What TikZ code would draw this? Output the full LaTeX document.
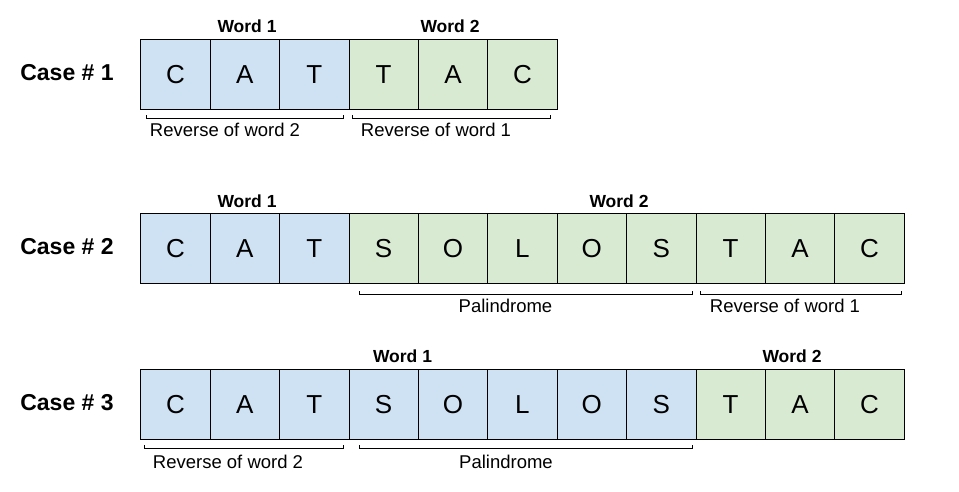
\documentclass[tikz,border=0pt]{standalone}
\usepackage{fontspec}
\setmainfont{Liberation Sans}
\usepackage{tikz}
\usetikzlibrary{positioning}
\definecolor{wordblue}{HTML}{CFE2F3}
\definecolor{wordgreen}{HTML}{D9EAD3}
\tikzset{
  cell/.style={draw=black, line width=0.8pt, minimum width=69.4pt, minimum height=70pt,
    inner sep=0pt, outer sep=0pt, font=\fontsize{26}{30}\selectfont},
  wone/.style={cell, fill=wordblue},
  wtwo/.style={cell, fill=wordgreen},
  casetag/.style={font=\bfseries\fontsize{23}{26}\selectfont},
  wordtag/.style={font=\bfseries\fontsize{17.5}{20}\selectfont},
  note/.style={font=\fontsize{18.5}{22}\selectfont},
  bracket/.style={draw=black, line width=0.8pt}
}
\begin{document}
\begin{tikzpicture}[x=1pt, y=-1pt, node distance=0pt]
  \useasboundingbox (0,0) rectangle (959,492);

  % case 1
  \node[casetag] (case1) at (67,73) {Case \# 1};
  \node[wone, anchor=north west] (a1) at (140.7,39.3) {C};
  \node[wone, right=of a1] (a2) {A};
  \node[wone, right=of a2] (a3) {T};
  \node[wtwo, right=of a3] (a4) {T};
  \node[wtwo, right=of a4] (a5) {A};
  \node[wtwo, right=of a5] (a6) {C};
  \node[wordtag] (a1w) at (247,26.5) {Word 1};
  \node[wordtag] (a2w) at (450,26.5) {Word 2};
  \coordinate[below right=9pt and 6pt of a1.south west] (ra1);
  \coordinate[below left=9pt and 6pt of a3.south east] (ra2);
  \coordinate[below right=9pt and 3pt of a4.south west] (ra3);
  \coordinate[below left=9pt and 7pt of a6.south east] (ra4);
  \draw[bracket] ([yshift=3pt]ra1) -- (ra1) -- (ra2) -- ([yshift=3pt]ra2);
  \draw[bracket] ([yshift=3pt]ra3) -- (ra3) -- (ra4) -- ([yshift=3pt]ra4);
  \node[note] (na1) at (225,130) {Reverse of word 2};
  \node[note] (na2) at (436,130) {Reverse of word 1};

  % case 2
  \node[casetag] (case2) at (67,246.5) {Case \# 2};
  \node[wone, anchor=north west] (b1) at (140.7,213.3) {C};
  \node[wone, right=of b1] (b2) {A};
  \node[wone, right=of b2] (b3) {T};
  \node[wtwo, right=of b3] (b4) {S};
  \node[wtwo, right=of b4] (b5) {O};
  \node[wtwo, right=of b5] (b6) {L};
  \node[wtwo, right=of b6] (b7) {O};
  \node[wtwo, right=of b7] (b8) {S};
  \node[wtwo, right=of b8] (b9) {T};
  \node[wtwo, right=of b9] (b10) {A};
  \node[wtwo, right=of b10] (b11) {C};
  \node[wordtag] (b1w) at (247,201) {Word 1};
  \node[wordtag] (b2w) at (619,201) {Word 2};
  \coordinate[below right=11pt and 10pt of b4.south west] (rb1);
  \coordinate[below left=11pt and 4pt of b8.south east] (rb2);
  \coordinate[below right=11pt and 4pt of b9.south west] (rb3);
  \coordinate[below left=11pt and 3pt of b11.south east] (rb4);
  \draw[bracket] ([yshift=3pt]rb1) -- (rb1) -- (rb2) -- ([yshift=3pt]rb2);
  \draw[bracket] ([yshift=3pt]rb3) -- (rb3) -- (rb4) -- ([yshift=3pt]rb4);
  \node[note] (nb1) at (505.5,306) {Palindrome};
  \node[note] (nb2) at (785,306) {Reverse of word 1};

  % case 3
  \node[casetag] (case3) at (67,402.5) {Case \# 3};
  \node[wone, anchor=north west] (c1) at (140.7,369.3) {C};
  \node[wone, right=of c1] (c2) {A};
  \node[wone, right=of c2] (c3) {T};
  \node[wone, right=of c3] (c4) {S};
  \node[wone, right=of c4] (c5) {O};
  \node[wone, right=of c5] (c6) {L};
  \node[wone, right=of c6] (c7) {O};
  \node[wone, right=of c7] (c8) {S};
  \node[wtwo, right=of c8] (c9) {T};
  \node[wtwo, right=of c9] (c10) {A};
  \node[wtwo, right=of c10] (c11) {C};
  \node[wordtag] (c1w) at (402.5,356) {Word 1};
  \node[wordtag] (c2w) at (792,356) {Word 2};
  \coordinate[below right=9pt and 4pt of c1.south west] (rc1);
  \coordinate[below left=9pt and 6pt of c3.south east] (rc2);
  \coordinate[below right=9pt and 10pt of c4.south west] (rc3);
  \coordinate[below left=9pt and 4pt of c8.south east] (rc4);
  \draw[bracket] ([yshift=3pt]rc1) -- (rc1) -- (rc2) -- ([yshift=3pt]rc2);
  \draw[bracket] ([yshift=3pt]rc3) -- (rc3) -- (rc4) -- ([yshift=3pt]rc4);
  \node[note] (nc1) at (228,462) {Reverse of word 2};
  \node[note] (nc2) at (506,462) {Palindrome};
\end{tikzpicture}
\end{document}
